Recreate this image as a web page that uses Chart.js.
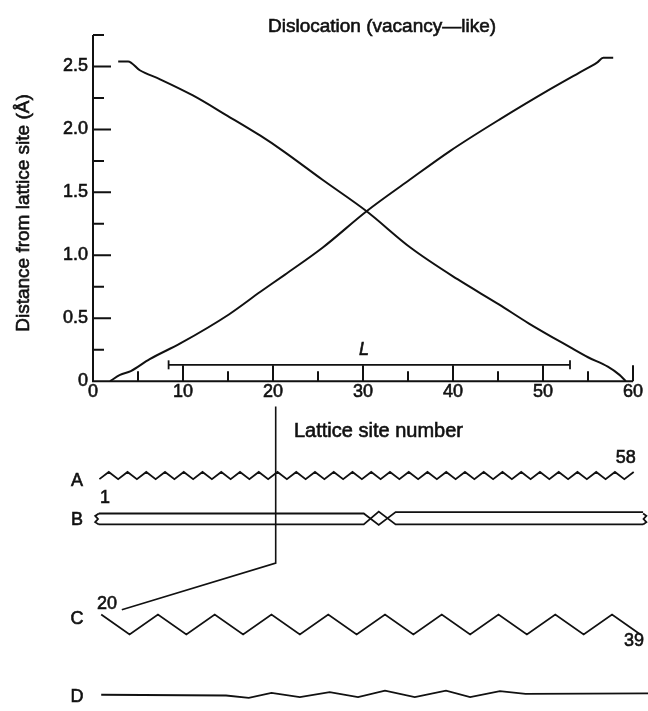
<!DOCTYPE html>
<html lang="en">
<head>
<meta charset="UTF-8" />
<meta name="viewport" content="width=device-width, initial-scale=1.0" />
<title>Dislocation (vacancy-like)</title>
<script src="https://cdn.jsdelivr.net/npm/chart.js@4.4.0/dist/chart.umd.min.js"></script>
<style>
    html, body { margin: 0; padding: 0; background: #fff; }
    #wrap { position: relative; width: 648px; height: 711px; }
</style>
</head>
<body>
<div id="wrap"><canvas id="dislocationChart" width="648" height="711"></canvas></div>
<script>
// Distance from lattice site (Å) against lattice site number
const siteDown = [2.8, 3.9, 5.2, 7.4, 11.1, 14.9, 18.6, 21.1, 25.5, 30.4, 35.3, 40.5, 45.1, 48.4, 53.0, 55.0, 57.2, 58.5, 59.2];
const distDown = [2.54, 2.54, 2.47, 2.40, 2.27, 2.11, 1.95, 1.83, 1.60, 1.35, 1.06, 0.81, 0.61, 0.46, 0.27, 0.19, 0.115, 0.05, 0.0];
const siteUp = [1.9, 3.0, 4.2, 6.3, 9.7, 15.1, 18.6, 21.3, 25.5, 30.4, 35.0, 39.7, 45.2, 50.8, 54.0, 56.0, 56.7, 57.8];
const distUp = [0.0, 0.05, 0.08, 0.175, 0.30, 0.53, 0.71, 0.845, 1.06, 1.35, 1.59, 1.83, 2.08, 2.32, 2.45, 2.53, 2.57, 2.57];

// the L bar and axis ticks
const lBarSites = [8.4, 53.0];
const lBarLevel = 0.13;
const xMajorTicks = [10, 20, 30, 40, 50, 60];
const xMinorTicks = [5, 15, 25, 35, 45, 55];
const xTickLabels = ['0', '10', '20', '30', '40', '50', '60'];
const yMajorTicks = [0.5, 1.0, 1.5, 2.0, 2.5];
const yMinorTicks = [0.25, 0.75, 1.25, 1.75, 2.25, 2.75];
const yTickLabels = ['0', '0.5', '1.0', '1.5', '2.0', '2.5'];

// atom rows under the plot (A and B by site 1..58, C and D by site 20..39)
const chainASites = [1, 2, 3, 4, 5, 6, 7, 8, 9, 10, 11, 12, 13, 14, 15, 16, 17, 18, 19, 20, 21, 22, 23, 24, 25, 26, 27, 28, 29,
    30, 31, 32, 33, 34, 35, 36, 37, 38, 39, 40, 41, 42, 43, 44, 45, 46, 47, 48, 49, 50, 51, 52, 53, 54, 55, 56, 57, 58];
const chainAY = [-0.778, -0.721, -0.778, -0.721, -0.778, -0.721, -0.778, -0.721, -0.778, -0.721, -0.778, -0.721, -0.778, -0.721,
    -0.778, -0.721, -0.778, -0.721, -0.778, -0.721, -0.778, -0.721, -0.778, -0.721, -0.778, -0.721, -0.778, -0.721, -0.778, -0.721,
    -0.778, -0.721, -0.778, -0.721, -0.778, -0.721, -0.778, -0.721, -0.778, -0.721, -0.778, -0.721, -0.778, -0.721, -0.778, -0.721,
    -0.778, -0.721, -0.778, -0.721, -0.778, -0.721, -0.778, -0.721, -0.778, -0.721, -0.778, -0.721];
const chainBSites = [0.94, 29.2, 30.8, 32.6, 59.0];
const chainBUpper = [-1.051, -1.051, -1.142, -1.040, -1.040];
const chainBLower = [-1.138, -1.138, -1.036, -1.138, -1.138];
const capBLeftSites = [0.94, 0.55, 0.85, 0.55, 0.94];
const capBRightSites = [59.0, 59.35, 59.05, 59.35, 59.0];
const capBY = [-1.051, -1.07, -1.095, -1.12, -1.138];
const chainCSites = [20, 21, 22, 23, 24, 25, 26, 27, 28, 29, 30, 31, 32, 33, 34, 35, 36, 37, 38, 39, 40];
const chainCY = [-1.854, -2.012, -1.854, -2.012, -1.854, -2.012, -1.854, -2.012, -1.854, -2.012, -1.854, -2.012,
    -1.854, -2.012, -1.854, -2.012, -1.854, -2.012, -1.854, -2.012, -1.854];
const chainDSites = [20, 24.4, 25.2, 26.0, 27.0, 28.05, 29.05, 30.0, 31.05, 32.15, 33.0, 34.05, 34.95, 40];
const chainDY = [-2.491, -2.497, -2.515, -2.476, -2.510, -2.470, -2.510, -2.458, -2.510, -2.458, -2.510, -2.462, -2.484, -2.480];
const linkSites = [20.3, 20.3, 3.2];
const linkY = [-0.201, -1.445, -1.815];

const INK = '#111';
const FONT = '"Liberation Sans", Arial, Helvetica, sans-serif';

const pts = (xs, ys) => xs.map((v, i) => ({ x: v, y: ys[i] }));

function lineSet(xs, ys, xAxisID, extra) {
    return Object.assign({
        data: pts(xs, ys),
        xAxisID: xAxisID,
        yAxisID: 'y',
        borderColor: INK,
        borderWidth: 1.8,
        pointRadius: 0,
        tension: 0,
        clip: false
    }, extra || {});
}

// labels placed in the main x/y value space
const textMarks = [
    { text: 'A', x: -1.78, y: -0.79 },
    { text: 'B', x: -1.78, y: -1.106 },
    { text: 'C', x: -1.78, y: -1.893 },
    { text: 'D', x: -1.78, y: -2.507 },
    { text: '1', x: 1.33, y: -0.925 },
    { text: '58', x: 59.2, y: -0.611 },
    { text: '20', x: 1.56, y: -1.767 },
    { text: '39', x: 60.1, y: -2.066 }
];

// filled text with a hairline stroke, for the heavier print weight
function ink(ctx, text, px, py) {
    ctx.fillText(text, px, py);
    ctx.strokeText(text, px, py);
}

const axesPlugin = {
    id: 'axesPlugin',
    afterDraw(chart) {
        const { ctx } = chart;
        const x = chart.scales.x, y = chart.scales.y;
        const x0 = x.getPixelForValue(0), y0 = y.getPixelForValue(0);
        ctx.save();
        ctx.strokeStyle = INK;
        ctx.fillStyle = INK;
        ctx.lineWidth = 2;

        ctx.beginPath();
        ctx.moveTo(x0, y0);
        ctx.lineTo(x0, y.getPixelForValue(2.75));
        ctx.moveTo(x0 - 1, y0);
        ctx.lineTo(x.getPixelForValue(60), y0);
        yMajorTicks.forEach(v => { const p = y.getPixelForValue(v); ctx.moveTo(x0, p); ctx.lineTo(x0 + 18, p); });
        yMinorTicks.forEach(v => { const p = y.getPixelForValue(v); ctx.moveTo(x0, p); ctx.lineTo(x0 + 11, p); });
        xMajorTicks.forEach(v => { const p = x.getPixelForValue(v); ctx.moveTo(p, y0); ctx.lineTo(p, y0 - 16); });
        xMinorTicks.forEach(v => { const p = x.getPixelForValue(v); ctx.moveTo(p, y0); ctx.lineTo(p, y0 - 10); });
        ctx.stroke();

        ctx.lineWidth = 0.6;
        ctx.font = '18px ' + FONT;
        ctx.textAlign = 'right';
        ctx.textBaseline = 'middle';
        yTickLabels.forEach(t => ink(ctx, t, x0 - 5, y.getPixelForValue(parseFloat(t))));
        ctx.textAlign = 'center';
        xTickLabels.forEach(t => ink(ctx, t, x.getPixelForValue(parseFloat(t)), y0 + 11));

        textMarks.forEach(m => ink(ctx, m.text, x.getPixelForValue(m.x), y.getPixelForValue(m.y)));

        ctx.font = 'italic 18px ' + FONT;
        ink(ctx, 'L', x.getPixelForValue(30.1), y.getPixelForValue(0.25));

        ctx.font = '19px ' + FONT;
        ctx.textAlign = 'left';
        ctx.textBaseline = 'alphabetic';
        ink(ctx, 'Dislocation (vacancy\u2014like)', 268, 32);
        ctx.font = '20px ' + FONT;
        ink(ctx, 'Lattice site number', 294, 437);

        ctx.translate(29, 213);
        ctx.rotate(-Math.PI / 2);
        ctx.font = '19px ' + FONT;
        ctx.textAlign = 'center';
        ink(ctx, 'Distance from lattice site (\u00c5)', 0, 0);
        ctx.restore();
    }
};

new Chart(document.getElementById('dislocationChart'), {
    type: 'line',
    data: {
        datasets: [
            lineSet(siteDown, distDown, 'x', { cubicInterpolationMode: 'monotone', borderWidth: 2 }),
            lineSet(siteUp, distUp, 'x', { cubicInterpolationMode: 'monotone', borderWidth: 2 }),
            lineSet(lBarSites, [lBarLevel, lBarLevel], 'x', {
                pointRadius: 4.5, pointStyle: 'line', rotation: 90,
                pointBorderColor: INK, pointBorderWidth: 1.8
            }),
            lineSet(chainASites, chainAY, 'xA'),
            lineSet(chainBSites, chainBUpper, 'xA'),
            lineSet(chainBSites, chainBLower, 'xA'),
            lineSet(capBLeftSites, capBY, 'xA'),
            lineSet(capBRightSites, capBY, 'xA'),
            lineSet(chainCSites, chainCY, 'xC'),
            lineSet(chainDSites, chainDY, 'xC'),
            lineSet(linkSites, linkY, 'x', { borderWidth: 1.6 })
        ]
    },
    options: {
        responsive: false,
        animation: false,
        devicePixelRatio: 1,
        events: [],
        layout: { padding: { left: 93, right: 15, top: 35, bottom: 0 } },
        plugins: { legend: { display: false }, tooltip: { enabled: false } },
        scales: {
            x: { type: 'linear', min: 0, max: 60, display: false },
            xA: { type: 'linear', axis: 'x', min: 0.3172, max: 57.925, display: false },
            xC: { type: 'linear', axis: 'x', min: 19.711, max: 38.739, display: false },
            y: { type: 'linear', min: -2.57, max: 2.75, display: false }
        }
    },
    plugins: [axesPlugin]
});
</script>
</body>
</html>
